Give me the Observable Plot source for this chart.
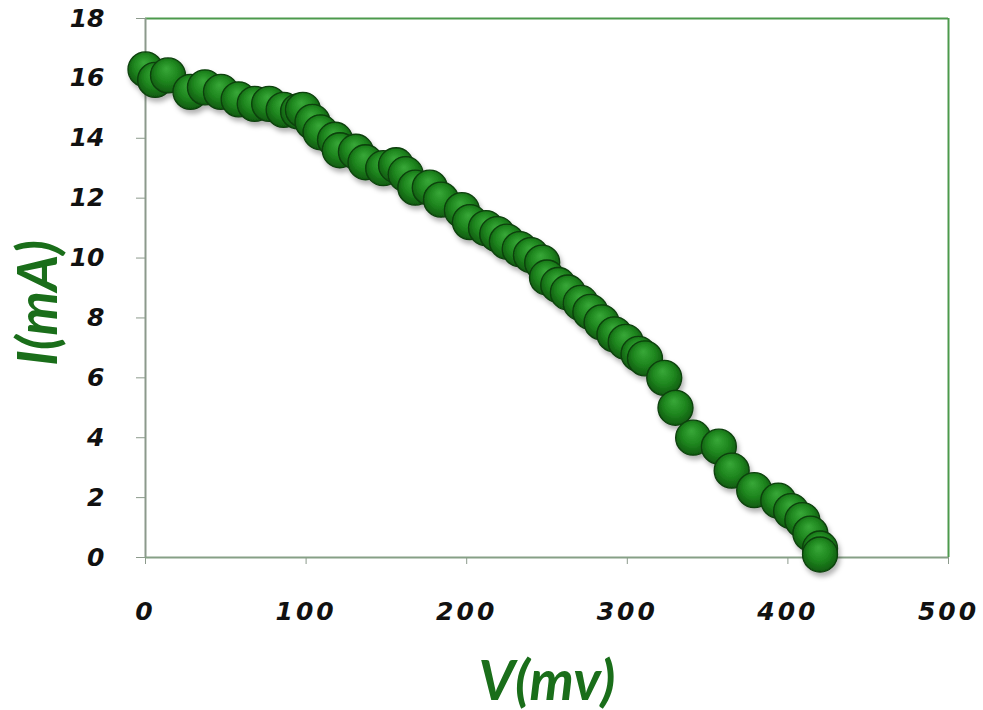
<!DOCTYPE html>
<html>
<head>
<meta charset="utf-8">
<script src="https://cdn.jsdelivr.net/npm/d3@7"></script>
<script src="https://cdn.jsdelivr.net/npm/@observablehq/plot@0.6"></script>
<style>
  html, body { margin: 0; padding: 0; background: #fff; }
  #chart svg { display: block; }
</style>
</head>
<body>
<div id="chart"></div>
<script>
// Measured I–V curve: voltage (mV) and current (mA)
const voltage = [0, 6, 14, 28, 37, 47, 58, 68, 77, 86, 95, 98, 104, 109, 118, 121, 131, 137, 148, 156,
  162, 168, 177, 184, 197, 202, 212, 219, 225, 233, 240, 247, 250, 257, 263, 271, 277, 284, 292, 299,
  307, 311, 323, 330, 341, 357, 365, 379, 394, 402, 409, 414, 420, 420];
const current = [16.3, 15.95, 16.1, 15.55, 15.7, 15.55, 15.3, 15.15, 15.15, 14.95, 14.9, 14.95, 14.55, 14.2, 13.95, 13.6, 13.55, 13.2, 13.0, 13.1,
  12.8, 12.35, 12.35, 11.95, 11.6, 11.2, 11.0, 10.8, 10.55, 10.3, 10.1, 9.85, 9.35, 9.1, 8.85, 8.5, 8.2, 7.85, 7.45, 7.2,
  6.8, 6.65, 6.0, 5.0, 4.0, 3.7, 2.9, 2.25, 1.9, 1.55, 1.25, 0.8, 0.3, 0.1];

const xTicks = [0, 100, 200, 300, 400, 500];
const yTicks = [0, 2, 4, 6, 8, 10, 12, 14, 16, 18];
const xTitle = "V(mv)";
const yTitle = "I(mA)";

const points = voltage.map((v, i) => ({v, i: current[i]}));

const tickFont = "DejaVu Sans, Verdana, sans-serif";
const titleFont = "Lato, 'Open Sans', sans-serif";
const titleColor = "#1a6e1a";

const chart = Plot.plot({
  width: 983,
  height: 710,
  marginLeft: 145,
  marginRight: 35,
  marginTop: 18,
  marginBottom: 153,
  style: {background: "#fff", overflow: "visible"},
  x: {domain: [0, 500]},
  y: {domain: [0, 18]},
  marks: [
    // top and right frame edges
    Plot.ruleY([18], {stroke: "#4c9a4c", strokeWidth: 2}),
    Plot.ruleX([500], {stroke: "#4c9a4c", strokeWidth: 2}),
    Plot.axisY({
      ticks: yTicks, tickSize: 9, tickPadding: 32, label: null,
      fontSize: 25, fontWeight: "bold", fontStyle: "italic",
      fontFamily: tickFont, stroke: "#8c9a8c", color: "#111"
    }),
    Plot.axisX({
      ticks: xTicks, tickSize: 7, tickPadding: 38, label: null,
      fontSize: 25, fontWeight: "bold", fontStyle: "italic",
      fontFamily: tickFont, stroke: "#8c9a8c", color: "#111"
    }),
    Plot.ruleX([0], {stroke: "#8c9a8c", strokeWidth: 2}),
    Plot.ruleY([0], {stroke: "#86a086", strokeWidth: 2}),
    Plot.dot(points, {
      x: "v", y: "i", r: 17.5,
      fill: "url(#ballGrad)", stroke: "#0b3f0b", strokeWidth: 1.3
    }),
    Plot.text([xTitle], {
      frameAnchor: "bottom", textAnchor: "middle", dy: 142, text: d => d,
      fontSize: 56, fontWeight: "bold", fontStyle: "italic",
      fontFamily: titleFont, fill: titleColor
    }),
    Plot.text([yTitle], {
      frameAnchor: "left", textAnchor: "middle", dx: -106, dy: 15, rotate: -90, text: d => d,
      fontSize: 56, fontWeight: "bold", fontStyle: "italic",
      fontFamily: titleFont, fill: titleColor
    })
  ]
});

// shaded ball fill and soft drop shadow for the markers
const svg = d3.select(chart);
const defs = svg.insert("defs", ":first-child");
const grad = defs.append("radialGradient")
  .attr("id", "ballGrad")
  .attr("cx", "50%").attr("cy", "45%").attr("r", "55%")
  .attr("fx", "45%").attr("fy", "30%");
grad.append("stop").attr("offset", "0%").attr("stop-color", "#38a838");
grad.append("stop").attr("offset", "55%").attr("stop-color", "#1f871f");
grad.append("stop").attr("offset", "100%").attr("stop-color", "#0f5a0f");
const shadow = defs.append("filter").attr("id", "ballShadow")
  .attr("x", "-30%").attr("y", "-30%").attr("width", "170%").attr("height", "170%");
shadow.append("feDropShadow")
  .attr("dx", 2).attr("dy", 4).attr("stdDeviation", 2.5)
  .attr("flood-color", "#000").attr("flood-opacity", 0.3);
svg.selectAll("g[aria-label=dot]").attr("filter", "url(#ballShadow)");
// wider spacing for the horizontal tick labels
svg.selectAll("g[aria-label='x-axis tick label'] text").style("letter-spacing", "3px");

document.getElementById("chart").appendChild(chart);
</script>
</body>
</html>
